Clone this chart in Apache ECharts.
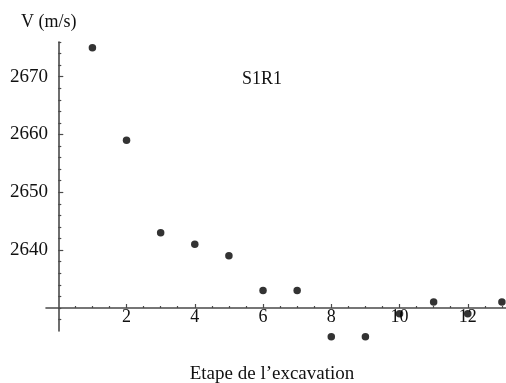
<!DOCTYPE html>
<html><head><meta charset="utf-8">
<script src="https://cdn.jsdelivr.net/npm/echarts@6/dist/echarts.min.js"></script>
<style>html,body{margin:0;padding:0;background:#fff}#c{width:506px;height:383px}</style>
</head><body><div id="c"></div>
<script>
const steps = [1,2,3,4,5,6,7,8,9,10,11,12,13];
const velocities = [2675,2659,2643,2641,2639,2633,2633,2625,2625,2629,2631,2629,2631];
const xTickLabels = [2,4,6,8,10,12];
const xMinorTicks = [0.5,1,1.5,2.5,3,3.5,4.5,5,5.5,6.5,7,7.5,8.5,9,9.5,10.5,11,11.5,12.5,13];
const yTickLabels = [2640,2650,2660,2670];
const yMinorTicks = [2628,2630,2632,2634,2636,2638,2642,2644,2646,2648,2652,2654,2656,2658,2662,2664,2666,2668,2672,2674,2676];
const yTitle = 'V (m/s)';
const xTitle = 'Etape de l\u2019excavation';
const seriesName = 'S1R1';

const FONT = '"Liberation Serif", "Times New Roman", serif';
const AX = '#4a4a4a';
const chart = echarts.init(document.getElementById('c'), null, {renderer:'canvas'});
const xCommon = {type:'value', min:-0.36, max:13.12, gridIndex:0, position:'bottom', offset:-23,
  splitLine:{show:false}, axisLine:{onZero:false}};
const yCommon = {type:'value', min:2626, max:2676, gridIndex:0, splitLine:{show:false}, axisLine:{onZero:true}};
const plain = v => String(v);
chart.setOption({
  animation:false,
  backgroundColor:'#fff',
  grid:{left:46, right:0, top:42, bottom:52, containLabel:false, outerBoundsMode:'none'},
  xAxis:[
    Object.assign({}, xCommon, {
      axisLine:{show:true, onZero:false, lineStyle:{color:AX, width:1.6}},
      axisTick:{show:true, inside:true, length:4, customValues:xTickLabels, lineStyle:{color:AX, width:1.2}},
      axisLabel:{show:true, customValues:xTickLabels, formatter:plain, margin:0, color:'#111', fontFamily:FONT, fontSize:18}
    }),
    Object.assign({}, xCommon, {
      axisLine:{show:false, onZero:false},
      axisTick:{show:true, inside:true, length:2, customValues:xMinorTicks, lineStyle:{color:AX, width:1.2}},
      axisLabel:{show:false}
    })
  ],
  yAxis:[
    Object.assign({}, yCommon, {
      axisLine:{show:true, onZero:true, lineStyle:{color:AX, width:1.6}},
      axisTick:{show:true, inside:true, length:5, customValues:yTickLabels, lineStyle:{color:AX, width:1.2}},
      axisLabel:{show:true, customValues:yTickLabels, formatter:plain, margin:-2, color:'#111', fontFamily:FONT, fontSize:19}
    }),
    Object.assign({}, yCommon, {
      position:'left',
      axisLine:{show:false, onZero:true},
      axisTick:{show:true, inside:true, length:3, customValues:yMinorTicks, lineStyle:{color:AX, width:1.2}},
      axisLabel:{show:false}
    })
  ],
  graphic:[
    {type:'text', left:21, top:13, style:{text:yTitle, font:'18px ' + FONT, fill:'#111'}},
    {type:'text', x:262, y:79, style:{text:seriesName, font:'18px ' + FONT, fill:'#111', align:'center', verticalAlign:'middle'}},
    {type:'text', x:272, y:374, style:{text:xTitle, font:'19px ' + FONT, fill:'#111', align:'center', verticalAlign:'middle'}}
  ],
  series:[{
    type:'scatter', xAxisIndex:0, yAxisIndex:0, clip:false,
    symbol:'circle', symbolSize:7.5,
    itemStyle:{color:'#000'},
    data: steps.map((s,i)=>[s, velocities[i]])
  }]
});
</script></body></html>
